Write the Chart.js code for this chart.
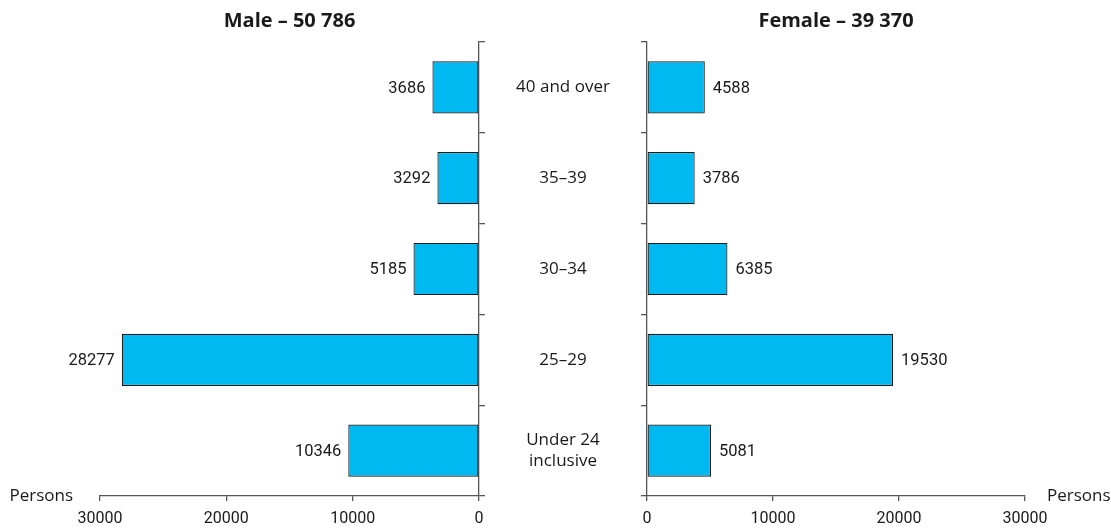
<!DOCTYPE html>
<html>
<head>
<meta charset="utf-8">
<script src="https://cdn.jsdelivr.net/npm/chart.js@4.4.1/dist/chart.umd.min.js"></script>
<style>
  html, body { margin: 0; padding: 0; background: #ffffff; overflow: hidden; }
  #wrap { position: relative; width: 1111px; height: 530px; }
  #wrap canvas { position: absolute; left: 0; top: 0; }
</style>
</head>
<body>
<div id="wrap">
  <canvas id="male" width="1111" height="530"></canvas>
  <canvas id="female" width="1111" height="530"></canvas>
</div>
<script>
// Age groups, top to bottom
const ageGroups = ['40 and over', '35–39', '30–34', '25–29', ['Under 24', 'inclusive']];
// Persons in each age group
const maleValues = [3686, 3292, 5185, 28277, 10346];
const femaleValues = [4588, 3786, 6385, 19530, 5081];
// Panel titles
const maleTitle = 'Male – 50 786';
const femaleTitle = 'Female – 39 370';
// Value axis
const axisMax = 30000;
const axisStep = 10000;
const unitLabel = 'Persons';

const W = 1111;
const BAR_FILL = '#00b9f0';
const BAR_EDGE = '#1a1a1a';
const AXIS = '#555555';
const TEXT = '#1a1a1a';
const NUM_FONT = 'Roboto, "Liberation Sans", sans-serif';
const TXT_FONT = '"Open Sans", "Noto Sans", sans-serif';

const LEFT_AREA = { left: 100, right: 479 };
const RIGHT_AREA = { left: 647, right: 1025 };
const Y_TICK = 6;

// Value labels at the end of each bar, plus the unit label by the value axis
const barLabels = {
  id: 'barLabels',
  afterDatasetsDraw(chart, args, opts) {
    const ctx = chart.ctx;
    const meta = chart.getDatasetMeta(0);
    const data = chart.data.datasets[0].data;
    ctx.save();
    ctx.fillStyle = TEXT;
    ctx.font = '16.5px ' + NUM_FONT;
    ctx.textBaseline = 'middle';
    meta.data.forEach((bar, i) => {
      if (opts.side === 'left') {
        ctx.textAlign = 'right';
        ctx.fillText(String(data[i]), bar.x - 7, bar.y + 1);
      } else {
        ctx.textAlign = 'left';
        ctx.fillText(String(data[i]), bar.x + 8, bar.y + 1);
      }
    });
    // unit label next to the value axis
    const xs = chart.scales.x;
    ctx.font = '17px ' + TXT_FONT;
    if (opts.side === 'left') {
      ctx.textAlign = 'right';
      ctx.fillText(unitLabel, xs.left - 27, xs.top);
    } else {
      ctx.textAlign = 'left';
      ctx.fillText(unitLabel, xs.right + 22, xs.top);
    }
    ctx.restore();
  }
};

// Age group names, centred in the gap between the two panels
const groupLabels = {
  id: 'groupLabels',
  afterDraw(chart) {
    const ys = chart.scales.y;
    const ctx = chart.ctx;
    const cx = (LEFT_AREA.right + RIGHT_AREA.left) / 2;
    const lh = 20.5;
    ctx.save();
    ctx.fillStyle = TEXT;
    ctx.font = '17px ' + TXT_FONT;
    ctx.textAlign = 'center';
    ctx.textBaseline = 'middle';
    chart.data.labels.forEach((lab, i) => {
      const y = ys.getPixelForValue(i);
      const lines = Array.isArray(lab) ? lab : [lab];
      const y0 = y - (lines.length - 1) * lh / 2;
      lines.forEach((t, k) => ctx.fillText(t, cx, y0 + k * lh));
    });
    ctx.restore();
  }
};

function panel(id, values, title, side) {
  const isLeft = side === 'left';
  const padding = isLeft
    ? { left: LEFT_AREA.left, right: W - LEFT_AREA.right - Y_TICK, top: 0, bottom: -7 }
    : { left: RIGHT_AREA.left - Y_TICK, right: W - RIGHT_AREA.right, top: 0, bottom: -7 };
  return new Chart(document.getElementById(id), {
    type: 'bar',
    data: {
      labels: ageGroups,
      datasets: [{
        data: values,
        backgroundColor: BAR_FILL,
        borderColor: BAR_EDGE,
        borderWidth: 1.2,
        borderSkipped: false,
        barPercentage: 0.575,
        categoryPercentage: 1
      }]
    },
    options: {
      indexAxis: 'y',
      responsive: false,
      animation: false,
      events: [],
      layout: { padding },
      plugins: {
        legend: { display: false },
        tooltip: { enabled: false },
        title: {
          display: true,
          text: title,
          fullSize: false,
          color: TEXT,
          font: { family: TXT_FONT, size: 20, weight: 'bold', lineHeight: 1.2 },
          padding: { top: 9, bottom: 9 }
        },
        barLabels: { side }
      },
      scales: {
        x: {
          type: 'linear',
          reverse: isLeft,
          min: 0,
          max: axisMax,
          ticks: {
            stepSize: axisStep,
            color: TEXT,
            padding: 10,
            font: { family: NUM_FONT, size: 16, lineHeight: 1 },
            callback: v => String(v)
          },
          grid: { drawOnChartArea: false, drawTicks: true, tickLength: 5, color: AXIS, lineWidth: 1.3 },
          border: { display: true, color: AXIS, width: 1.3 }
        },
        y: {
          position: isLeft ? 'right' : 'left',
          offset: true,
          ticks: { display: false },
          grid: { drawOnChartArea: false, drawTicks: true, tickLength: Y_TICK, offset: true, color: AXIS, lineWidth: 1.3 },
          border: { display: true, color: AXIS, width: 1.3 }
        }
      }
    },
    plugins: isLeft ? [barLabels, groupLabels] : [barLabels]
  });
}

panel('male', maleValues, maleTitle, 'left');
panel('female', femaleValues, femaleTitle, 'right');
</script>
</body>
</html>
